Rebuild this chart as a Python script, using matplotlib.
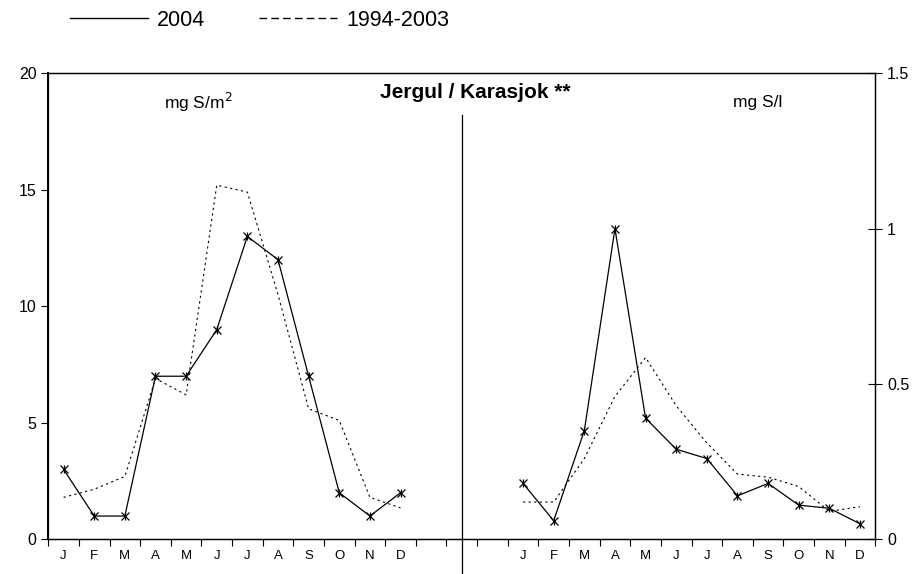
import numpy as np
import matplotlib
matplotlib.use('Agg')
import matplotlib.pyplot as plt
from matplotlib.lines import Line2D

plt.rcParams['font.family'] = ['Liberation Sans', 'DejaVu Sans']

months = ['J', 'F', 'M', 'A', 'M', 'J', 'J', 'A', 'S', 'O', 'N', 'D']
# deposition, mg S/m2 (left axis)
dep_2004 = [3.0, 1.0, 1.0, 7.0, 7.0, 9.0, 13.0, 12.0, 7.0, 2.0, 1.0, 2.0]
dep_mean = [1.8, 2.15, 2.7, 6.9, 6.2, 15.2, 14.9, 10.5, 5.6, 5.1, 1.8, 1.35]
# concentration, mg S/l (right axis)
conc_2004 = [0.18, 0.06, 0.35, 1.0, 0.39, 0.29, 0.26, 0.14, 0.18, 0.11, 0.10, 0.05]
conc_mean = [0.12, 0.12, 0.26, 0.46, 0.585, 0.43, 0.31, 0.21, 0.20, 0.17, 0.09, 0.105]

xl = np.arange(12)        # left panel slots
xr = np.arange(12) + 15   # right panel slots
ncat = 27

fig = plt.figure(figsize=(9.18, 5.74), dpi=100)
ax = fig.add_axes([0.0526, 0.0604, 0.9009, 0.8119])
ax2 = ax.twinx()

dash = (0, (2, 3))
ax.plot(xl, dep_mean, color='black', lw=0.8, ls=dash)
ax.plot(xl, dep_2004, color='black', lw=0.9, marker='x', ms=5.5, mew=0.9)
ax.plot(xl, dep_2004, ls='none', color='black', marker='|', ms=5.5, mew=0.9)

ax2.plot(xr, conc_mean, color='black', lw=0.8, ls=dash)
ax2.plot(xr, conc_2004, color='black', lw=0.9, marker='x', ms=5.5, mew=0.9)
ax2.plot(xr, conc_2004, ls='none', color='black', marker='|', ms=5.5, mew=0.9)

ax.set_xlim(-0.5, ncat - 0.5)
ax.set_ylim(0, 20)
ax2.set_ylim(0, 1.5)
ax.set_yticks([0, 5, 10, 15, 20])
ax.set_yticklabels(['0', '5', '10', '15', '20'])
ax2.set_yticks([0, 0.5, 1, 1.5])
ax2.set_yticklabels(['0', '0.5', '1', '1.5'])

ax.set_xticks(np.arange(ncat + 1) - 0.5)
ax.set_xticklabels([])
ax.set_xticks(list(xl) + list(xr), minor=True)
ax.set_xticklabels(months + months, minor=True, fontsize=9.5)
ax.tick_params(axis='x', which='major', direction='out', length=5, width=0.8)
ax.tick_params(axis='x', which='minor', length=0, pad=8)
ax.tick_params(axis='y', direction='out', length=5, width=0.8, labelsize=11.5)
ax2.tick_params(axis='y', direction='inout', length=10, width=0.8, labelsize=11.5)

for a in (ax, ax2):
    for s in a.spines.values():
        s.set_linewidth(0.9)
ax.spines['left'].set_linewidth(1.4)

# divider between the two panels
ax.axvline(13, ymin=-0.0745, ymax=0.9105, color='black', lw=0.9, clip_on=False)

ax.text((198 - 48.3) / 827, 0.937, 'mg S/m$^2$', transform=ax.transAxes,
        ha='center', va='center', fontsize=12.5)
ax.text((758 - 48.3) / 827, 0.937, 'mg S/l', transform=ax.transAxes,
        ha='center', va='center', fontsize=12.5)
ax.text((475 - 48.3) / 827, 0.958, 'Jergul / Karasjok **', transform=ax.transAxes,
        ha='center', va='center', fontsize=15, fontweight='bold')

handles = [Line2D([], [], color='black', lw=1.0),
           Line2D([], [], color='black', lw=1.0, ls=(0, (5.5, 3)))]
fig.legend(handles, ['2004', '1994-2003'], loc='center left',
           bbox_to_anchor=(70 / 918, 1 - 20 / 574), ncol=2, frameon=False,
           fontsize=15.5, borderpad=0, borderaxespad=0,
           handlelength=3.6, handletextpad=0.45, columnspacing=2.5)

fig.savefig('out.png', dpi=100)
